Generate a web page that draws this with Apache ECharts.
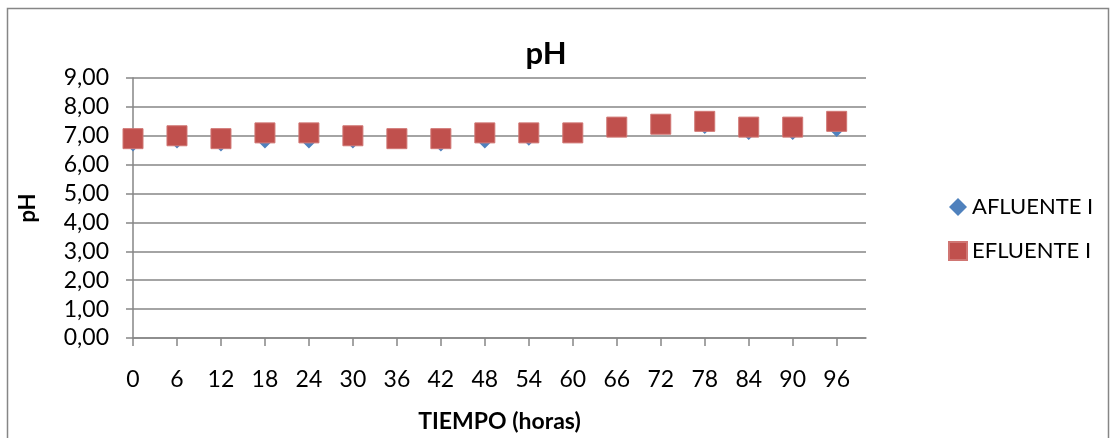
<!DOCTYPE html>
<html>
<head>
<meta charset="utf-8">
<script src="https://cdn.jsdelivr.net/npm/echarts@6/dist/echarts.min.js"></script>
<style>
  html, body { margin: 0; padding: 0; background: #fff; }
  #chart { width: 1111px; height: 438px; }
</style>
</head>
<body>
<div id="chart"></div>
<script>
// horas de muestreo
const hours = [0, 6, 12, 18, 24, 30, 36, 42, 48, 54, 60, 66, 72, 78, 84, 90, 96];
const afluente = [6.7, 6.8, 6.7, 6.8, 6.8, 6.8, 6.9, 6.7, 6.8, 6.9, 7.1, 7.3, 7.4, 7.3, 7.1, 7.1, 7.2];
const efluente = [6.9, 7.0, 6.9, 7.1, 7.1, 7.0, 6.9, 6.9, 7.1, 7.1, 7.1, 7.3, 7.4, 7.5, 7.3, 7.3, 7.5];

const FONT = "Lato, 'Liberation Sans', sans-serif";
const GRAY = "#868686";

const pairs = (vals) => hours.map((h, i) => [h, vals[i]]);

const chart = echarts.init(document.getElementById("chart"));
chart.setOption({
  animation: false,
  backgroundColor: "#fff",
  textStyle: { fontFamily: FONT },
  title: {
    text: "pH",
    left: 541,
    textAlign: "center",
    top: 33,
    textStyle: { fontFamily: FONT, fontSize: 31, fontWeight: "bold", color: "#000" }
  },
  graphic: [{
    type: "rect",
    shape: { x: 7.5, y: 8.5, width: 1101, height: 460 },
    style: { fill: "none", stroke: GRAY, lineWidth: 1.5 },
    silent: true
  }],
  grid: { left: 133, right: 245, top: 78, bottom: 97 },
  legend: {
    orient: "vertical",
    left: 943,
    top: 191,
    itemGap: 22,
    itemWidth: 18,
    itemHeight: 18,
    textStyle: { fontFamily: FONT, fontSize: 22, color: "#000" },
    data: [
      { name: "AFLUENTE I", icon: "diamond" },
      { name: "EFLUENTE I", icon: "rect" }
    ]
  },
  xAxis: {
    type: "value",
    min: 0,
    max: 100,
    interval: 6,
    name: "TIEMPO (horas)",
    nameLocation: "middle",
    nameGap: 72,
    nameTextStyle: { fontFamily: FONT, fontSize: 23, fontWeight: "bold", color: "#000" },
    axisLine: { show: true, lineStyle: { color: GRAY, width: 1.5 } },
    axisTick: { show: true, length: 8, lineStyle: { color: GRAY, width: 1.5 }, customValues: hours },
    axisLabel: { fontFamily: FONT, fontSize: 23, color: "#000", margin: 30, customValues: hours },
    splitLine: { show: false }
  },
  yAxis: {
    type: "value",
    min: 0,
    max: 9,
    interval: 1,
    name: "pH",
    nameLocation: "middle",
    nameRotate: 90,
    nameGap: 94,
    nameTextStyle: { fontFamily: FONT, fontSize: 22, fontWeight: "bold", color: "#000" },
    axisLine: { show: true, lineStyle: { color: GRAY, width: 1.5 } },
    axisTick: { show: true, inside: false, length: 7, lineStyle: { color: GRAY, width: 1.5 } },
    axisLabel: {
      fontFamily: FONT, fontSize: 23, color: "#000", margin: 24,
      formatter: (v) => v.toFixed(2).replace(".", ",")
    },
    splitLine: { show: true, lineStyle: { color: GRAY, width: 1.5 } }
  },
  series: [
    {
      name: "AFLUENTE I",
      type: "scatter",
      symbol: "diamond",
      symbolSize: 14,
      z: 2,
      itemStyle: { color: "#4F81BD", opacity: 1 },
      data: pairs(afluente)
    },
    {
      name: "EFLUENTE I",
      type: "scatter",
      symbol: "rect",
      symbolSize: 20,
      z: 3,
      itemStyle: { color: "#C0504D", borderColor: "#D07673", borderWidth: 1, opacity: 1 },
      data: pairs(efluente)
    }
  ]
});
</script>
</body>
</html>
